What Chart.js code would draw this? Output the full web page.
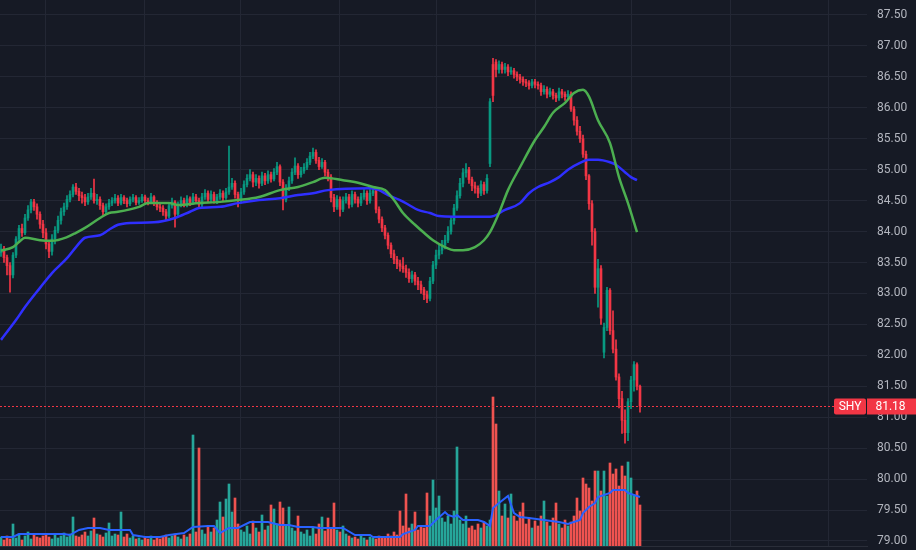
<!DOCTYPE html>
<html>
<head>
<meta charset="utf-8">
<title>SHY</title>
<script src="https://cdn.jsdelivr.net/npm/chart.js@4.4.1/dist/chart.umd.min.js"></script>
<style>
  html, body { margin: 0; padding: 0; background: #161a25; }
  #wrap { width: 916px; height: 550px; }
</style>
</head>
<body>
<div id="wrap"><canvas id="shyChart" width="916" height="550"></canvas></div>
<script>
// SHY daily candles (bar number = position in series)
const opens = [
  83.66, 83.72, 83.58, 83.45, 83.30, 83.62, 83.88, 84.05, 83.98, 84.22,
  84.35, 84.48, 84.40, 84.28, 84.12, 83.98, 83.80, 83.68, 83.88, 84.02,
  84.18, 84.32, 84.40, 84.52, 84.60, 84.72, 84.65, 84.58, 84.55, 84.48,
  84.56, 84.62, 84.50, 84.52, 84.42, 84.32, 84.40, 84.46, 84.50, 84.54,
  84.46, 84.55, 84.50, 84.45, 84.52, 84.55, 84.47, 84.50, 84.56, 84.50,
  84.48, 84.56, 84.46, 84.40, 84.38, 84.32, 84.25, 84.42, 84.48, 84.28,
  84.44, 84.50, 84.44, 84.53, 84.47, 84.56, 84.50, 84.44, 84.56, 84.62,
  84.52, 84.60, 84.50, 84.56, 84.62, 84.55, 84.64, 84.72, 84.78, 84.60,
  84.50, 84.64, 84.76, 84.86, 84.92, 84.80, 84.86, 84.78, 84.90, 84.82,
  84.92, 84.85, 84.96, 85.05, 84.80, 84.52, 84.70, 84.82, 84.96, 85.06,
  84.92, 84.98, 85.04, 85.12, 85.22, 85.28, 85.15, 85.05, 85.12, 84.96,
  84.88, 84.55, 84.40, 84.52, 84.36, 84.50, 84.56, 84.44, 84.60, 84.52,
  84.46, 84.56, 84.62, 84.50, 84.62, 84.66, 84.36, 84.20, 84.06, 83.94,
  83.78, 83.64, 83.55, 83.48, 83.44, 83.40, 83.34, 83.24, 83.30, 83.20,
  83.14, 83.06, 82.98, 82.92, 83.20, 83.46, 83.62, 83.70, 83.78, 83.86,
  84.00, 84.18, 84.38, 84.58, 84.78, 84.95, 85.00, 84.84, 84.74, 84.70,
  84.62, 84.76, 84.66, 85.10, 86.70, 86.74, 86.62, 86.70, 86.62, 86.66,
  86.58, 86.60, 86.54, 86.50, 86.46, 86.42, 86.40, 86.36, 86.42, 86.38,
  86.36, 86.26, 86.30, 86.22, 86.26, 86.20, 86.16, 86.26, 86.22, 86.18,
  86.22, 85.98, 85.80, 85.62, 85.50, 85.25, 84.90, 84.45, 84.00, 83.10,
  83.40, 82.05, 82.45, 83.05, 82.40, 82.10, 81.65, 81.30, 80.95, 80.75,
  81.25, 81.60, 81.85, 81.50
];
const highs = [
  83.80, 83.76, 83.62, 83.50, 83.66, 83.92, 84.10, 84.12, 84.28, 84.42,
  84.52, 84.52, 84.45, 84.32, 84.18, 84.05, 83.85, 83.95, 84.08, 84.25,
  84.38, 84.46, 84.58, 84.66, 84.76, 84.78, 84.70, 84.64, 84.60, 84.62,
  84.70, 84.85, 84.60, 84.56, 84.46, 84.45, 84.52, 84.55, 84.60, 84.58,
  84.60, 84.58, 84.54, 84.56, 84.60, 84.58, 84.55, 84.60, 84.59, 84.54,
  84.62, 84.58, 84.50, 84.45, 84.42, 84.36, 84.46, 84.54, 84.50, 84.48,
  84.56, 84.54, 84.58, 84.56, 84.62, 84.60, 84.54, 84.62, 84.68, 84.66,
  84.66, 84.64, 84.60, 84.68, 84.66, 84.70, 85.38, 84.86, 84.82, 84.64,
  84.70, 84.82, 84.92, 85.00, 84.96, 84.92, 84.90, 84.96, 84.94, 84.98,
  84.96, 85.02, 85.12, 85.08, 84.84, 84.76, 84.88, 85.02, 85.19, 85.10,
  85.04, 85.10, 85.18, 85.28, 85.35, 85.32, 85.20, 85.18, 85.15, 85.00,
  84.92, 84.60, 84.58, 84.56, 84.56, 84.62, 84.60, 84.66, 84.64, 84.56,
  84.62, 84.68, 84.66, 84.68, 84.72, 84.70, 84.40, 84.24, 84.10, 83.98,
  83.82, 83.70, 83.60, 83.54, 83.58, 83.46, 83.40, 83.36, 83.34, 83.26,
  83.20, 83.10, 83.04, 83.26, 83.52, 83.70, 83.78, 83.86, 83.94, 84.08,
  84.24, 84.44, 84.66, 84.86, 85.02, 85.10, 85.04, 84.88, 84.80, 84.74,
  84.82, 84.80, 84.92, 86.15, 86.80, 86.78, 86.76, 86.74, 86.72, 86.70,
  86.66, 86.64, 86.58, 86.54, 86.50, 86.46, 86.44, 86.46, 86.46, 86.42,
  86.40, 86.36, 86.34, 86.32, 86.30, 86.24, 86.32, 86.30, 86.26, 86.28,
  86.26, 86.02, 85.86, 85.70, 85.56, 85.30, 84.92, 84.50, 84.05, 83.55,
  83.45, 82.52, 83.10, 83.08, 82.72, 82.25, 81.70, 81.42, 81.12, 81.30,
  81.66, 81.90, 81.88, 81.52
];
const lows = [
  83.60, 83.50, 83.30, 83.02, 83.25, 83.58, 83.84, 83.92, 83.95, 84.18,
  84.30, 84.34, 84.20, 84.05, 83.90, 83.72, 83.58, 83.62, 83.80, 83.98,
  84.12, 84.26, 84.36, 84.48, 84.56, 84.60, 84.50, 84.46, 84.42, 84.44,
  84.52, 84.46, 84.44, 84.36, 84.26, 84.28, 84.36, 84.42, 84.46, 84.42,
  84.43, 84.45, 84.40, 84.42, 84.48, 84.43, 84.44, 84.47, 84.46, 84.43,
  84.45, 84.42, 84.35, 84.32, 84.26, 84.19, 84.22, 84.38, 84.07, 84.24,
  84.40, 84.40, 84.40, 84.42, 84.44, 84.46, 84.38, 84.40, 84.52, 84.48,
  84.48, 84.46, 84.45, 84.52, 84.50, 84.52, 84.60, 84.68, 84.54, 84.40,
  84.46, 84.60, 84.72, 84.82, 84.72, 84.74, 84.70, 84.74, 84.76, 84.78,
  84.80, 84.82, 84.92, 84.74, 84.35, 84.48, 84.66, 84.78, 84.92, 84.86,
  84.88, 84.94, 85.00, 85.08, 85.18, 85.10, 85.00, 85.02, 84.90, 84.82,
  84.48, 84.32, 84.36, 84.25, 84.32, 84.46, 84.38, 84.40, 84.46, 84.40,
  84.42, 84.52, 84.44, 84.46, 84.58, 84.30, 84.14, 84.00, 83.88, 83.72,
  83.58, 83.48, 83.40, 83.36, 83.34, 83.26, 83.18, 83.18, 83.14, 83.06,
  83.00, 82.90, 82.85, 82.88, 83.16, 83.40, 83.56, 83.64, 83.72, 83.82,
  83.96, 84.12, 84.34, 84.54, 84.72, 84.88, 84.78, 84.66, 84.62, 84.55,
  84.58, 84.60, 84.62, 85.05, 86.10, 86.50, 86.56, 86.56, 86.56, 86.52,
  86.54, 86.48, 86.44, 86.40, 86.36, 86.34, 86.30, 86.32, 86.32, 86.30,
  86.20, 86.22, 86.16, 86.18, 86.14, 86.10, 86.12, 86.16, 86.12, 86.14,
  85.94, 85.72, 85.56, 85.44, 85.20, 84.84, 84.36, 83.78, 83.00, 82.78,
  82.50, 81.96, 82.40, 82.34, 82.04, 81.60, 81.15, 80.74, 80.58, 80.62,
  81.14, 81.42, 81.44, 81.08
];
const closes = [
  83.72, 83.58, 83.45, 83.30, 83.62, 83.88, 84.05, 83.98, 84.22, 84.35,
  84.48, 84.40, 84.28, 84.12, 83.98, 83.80, 83.68, 83.88, 84.02, 84.18,
  84.32, 84.40, 84.52, 84.60, 84.72, 84.65, 84.58, 84.55, 84.48, 84.56,
  84.62, 84.50, 84.52, 84.42, 84.32, 84.40, 84.46, 84.50, 84.54, 84.46,
  84.55, 84.50, 84.45, 84.52, 84.55, 84.47, 84.50, 84.56, 84.50, 84.48,
  84.56, 84.46, 84.40, 84.38, 84.32, 84.25, 84.42, 84.48, 84.28, 84.44,
  84.50, 84.44, 84.53, 84.47, 84.56, 84.50, 84.44, 84.56, 84.62, 84.52,
  84.60, 84.50, 84.56, 84.62, 84.55, 84.64, 84.72, 84.78, 84.60, 84.50,
  84.64, 84.76, 84.86, 84.92, 84.80, 84.86, 84.78, 84.90, 84.82, 84.92,
  84.85, 84.96, 85.05, 84.80, 84.52, 84.70, 84.82, 84.96, 85.06, 84.92,
  84.98, 85.04, 85.12, 85.22, 85.28, 85.15, 85.05, 85.12, 84.96, 84.88,
  84.55, 84.40, 84.52, 84.36, 84.50, 84.56, 84.44, 84.60, 84.52, 84.46,
  84.56, 84.62, 84.50, 84.62, 84.66, 84.36, 84.20, 84.06, 83.94, 83.78,
  83.64, 83.55, 83.48, 83.44, 83.40, 83.34, 83.24, 83.30, 83.20, 83.14,
  83.06, 82.98, 82.92, 83.20, 83.46, 83.62, 83.70, 83.78, 83.86, 84.00,
  84.18, 84.38, 84.58, 84.78, 84.95, 85.00, 84.84, 84.74, 84.70, 84.62,
  84.76, 84.66, 84.86, 86.10, 86.20, 86.62, 86.70, 86.62, 86.66, 86.58,
  86.60, 86.54, 86.50, 86.46, 86.42, 86.40, 86.36, 86.42, 86.38, 86.36,
  86.26, 86.30, 86.22, 86.26, 86.20, 86.16, 86.26, 86.22, 86.18, 86.22,
  85.98, 85.80, 85.62, 85.50, 85.25, 84.90, 84.45, 84.00, 83.10, 83.40,
  82.60, 82.45, 83.05, 82.40, 82.10, 81.65, 81.30, 80.95, 80.75, 81.25,
  81.60, 81.85, 81.50, 81.18
];
// volume, thousands of shares
const volumes = [
  90, 60, 100, 70, 220, 80, 120, 60, 100, 140,
  70, 120, 90, 80, 100, 120, 90, 70, 110, 80,
  100, 130, 90, 120, 290, 100, 90, 110, 140, 100,
  150, 280, 120, 110, 90, 130, 230, 100, 120, 110,
  340, 90, 120, 80, 100, 70, 80, 60, 90, 70,
  100, 60, 80, 70, 90, 110, 80, 100, 120, 90,
  70, 110, 90, 120, 1110, 140, 980, 160, 120, 200,
  140, 180, 260, 440, 290, 470, 620, 340, 480, 220,
  160, 140, 200, 120, 250, 180, 140, 310, 160, 200,
  410, 370, 220, 440, 380, 200, 390, 180, 150, 300,
  140, 120, 160, 100, 180, 120, 220, 290, 150, 280,
  180, 430, 160, 140, 200, 120, 100, 80, 90, 70,
  100, 80, 60, 90, 80, 70, 100, 90, 80, 120,
  100, 140, 110, 350, 200, 520, 180, 220, 340, 160,
  200, 180, 530, 300, 660, 380, 500, 280, 240, 300,
  220, 350, 990, 260, 220, 300, 180, 200, 160, 220,
  180, 240, 200, 260, 1490, 1220, 550, 300, 420, 280,
  520, 300, 250, 340, 430, 220, 280, 180, 250, 200,
  300, 450, 240, 200, 280, 430, 220, 180, 260, 200,
  240, 300, 480, 350, 680, 620, 580, 450, 750, 750,
  550, 750, 500, 830, 720, 770, 600, 800, 700, 840,
  680, 500, 550, 410
];

// moving averages as drawn on the chart (bar number -> value)
const greenMaBars = [0, 4, 6, 8, 13, 17, 22, 25, 28, 33, 36, 39, 46, 49, 56, 59, 66, 73, 79, 86,
  93, 99, 104, 108, 114, 119, 124, 128, 131, 134, 138, 141, 144, 148, 151, 154, 158, 161, 163, 166,
  169, 173, 178, 181, 184, 188, 191, 194, 196, 199, 203, 206, 209, 212];
const greenMaValues = [83.69, 83.75, 83.83, 83.90, 83.86, 83.85, 83.91, 83.98, 84.06, 84.22,
  84.30, 84.32, 84.40, 84.46, 84.46, 84.43, 84.46, 84.48, 84.51, 84.56,
  84.67, 84.72, 84.80, 84.87, 84.83, 84.79, 84.72, 84.67, 84.51, 84.30,
  84.11, 83.98, 83.86, 83.75, 83.70, 83.70, 83.75, 83.86, 83.99, 84.30,
  84.67, 85.04, 85.48, 85.69, 85.92, 86.08, 86.24, 86.29, 86.18, 85.80,
  85.43, 84.88, 84.46, 83.99];
const blueMaBars = [0, 5, 8, 13, 17, 22, 25, 28, 33, 36, 39, 43, 51, 58, 63, 66, 73, 79, 86, 93,
  99, 104, 109, 123, 126, 129, 133, 136, 139, 143, 146, 151, 163, 168, 173, 176, 179, 183, 186, 189,
  193, 196, 199, 203, 205, 208, 210, 212];
const blueMaValues = [82.25, 82.57, 82.78, 83.09, 83.33, 83.57, 83.75, 83.90, 83.94, 84.03,
  84.11, 84.14, 84.15, 84.22, 84.32, 84.38, 84.40, 84.46, 84.51, 84.54,
  84.59, 84.62, 84.67, 84.70, 84.67, 84.59, 84.51, 84.43, 84.35, 84.30,
  84.25, 84.24, 84.24, 84.35, 84.46, 84.62, 84.72, 84.80, 84.88, 85.00,
  85.11, 85.16, 85.16, 85.12, 85.08, 84.96, 84.88, 84.83];
const volMaBars = [0, 4, 6, 13, 21, 23, 26, 29, 33, 36, 43, 44, 48, 53, 56, 61, 64, 69, 71, 73,
  76, 79, 83, 89, 93, 96, 99, 104, 106, 109, 114, 118, 123, 124, 133, 134, 138, 139, 143, 145,
  148, 149, 151, 152, 154, 159, 161, 163, 164, 166, 169, 171, 173, 176, 181, 186, 189, 193, 194, 196,
  198, 199, 203, 204, 208, 209, 211, 213];
const volMaValues = [90, 90, 120, 120, 120, 110, 160, 180, 180, 160,
  160, 110, 90, 90, 110, 130, 190, 200, 200, 130,
  180, 180, 240, 240, 210, 210, 190, 190, 180, 180,
  180, 110, 110, 90, 90, 120, 160, 200, 200, 260,
  340, 310, 290, 310, 260, 260, 240, 200, 380, 430,
  500, 330, 290, 280, 260, 240, 220, 260, 330, 390,
  430, 490, 530, 560, 560, 530, 510, 490];

// month boundaries (vertical grid), in bar numbers
const monthBreaks = [14.67, 47.67, 80, 112.67, 145.33, 178.33, 210.33, 243, 275.67];

const TICKER = 'SHY';
const UP = '#089981';
const DOWN = '#f23645';
const VOL_UP = '#26a69a';
const VOL_DOWN = '#ef5350';
const GRID = '#232734';
const TEXT = '#b2b5be';

Chart.defaults.font.family = "Roboto, 'Noto Sans', sans-serif";

function toPoints(bars, values) {
    return bars.map((b, k) => ({ x: b, y: values[k] }));
}

const isUp = closes.map((c, i) => c >= opens[i]);
const candleColors = isUp.map(u => u ? UP : DOWN);
const volumeColors = isUp.map(u => u ? VOL_UP : VOL_DOWN);

const wickData = highs.map((h, i) => ({ x: i, y: [lows[i], h] }));
const bodyData = opens.map((o, i) => ({ x: i, y: [o, closes[i]] }));
const volumeData = volumes.map((v, i) => ({ x: i, y: v }));

// dotted last-price line with ticker + price tags
const lastPricePlugin = {
    id: 'lastPrice',
    afterDatasetsDraw(chart) {
        const { ctx, chartArea, scales } = chart;
        const last = closes[closes.length - 1];
        const py = Math.round(scales.y.getPixelForValue(last)) + 0.5;
        ctx.save();
        ctx.strokeStyle = DOWN;
        ctx.lineWidth = 1;
        ctx.setLineDash([2, 2]);
        ctx.beginPath();
        ctx.moveTo(chartArea.left, py);
        ctx.lineTo(chartArea.right, py);
        ctx.stroke();
        ctx.setLineDash([]);

        ctx.fillStyle = DOWN;
        ctx.beginPath();
        ctx.roundRect(chartArea.right - 33, py - 8, 32, 16, 2);
        ctx.fill();
        ctx.fillRect(chartArea.right, py - 8, chart.width - chartArea.right, 16);

        ctx.fillStyle = '#ffffff';
        ctx.font = "12px Roboto, 'Noto Sans', sans-serif";
        ctx.textAlign = 'center';
        ctx.textBaseline = 'middle';
        ctx.fillText(TICKER, chartArea.right - 17, py + 0.5);
        ctx.fillText(last.toFixed(2), (chartArea.right + chart.width) / 2 - 1, py + 0.5);
        ctx.restore();
    }
};

const bgPlugin = {
    id: 'bg',
    beforeDraw(chart) {
        const ctx = chart.ctx;
        ctx.save();
        ctx.fillStyle = '#161a25';
        ctx.fillRect(0, 0, chart.width, chart.height);
        ctx.restore();
    }
};

const ctx = document.getElementById('shyChart').getContext('2d');
new Chart(ctx, {
    type: 'bar',
    data: {
        datasets: [
            {
                type: 'line', label: 'MA short', data: toPoints(greenMaBars, greenMaValues),
                borderColor: '#4caf50', borderWidth: 2.5, pointRadius: 0,
                cubicInterpolationMode: 'monotone', order: 1
            },
            {
                type: 'line', label: 'MA long', data: toPoints(blueMaBars, blueMaValues),
                borderColor: '#2f2fff', borderWidth: 2.5, pointRadius: 0,
                cubicInterpolationMode: 'monotone', order: 2
            },
            {
                label: 'Body', data: bodyData, backgroundColor: candleColors,
                barThickness: 2, minBarLength: 1, grouped: false, borderWidth: 0, order: 5
            },
            {
                label: 'Wick', data: wickData, backgroundColor: candleColors,
                barThickness: 1, grouped: false, borderWidth: 0, order: 6
            },
            {
                type: 'line', label: 'Volume MA', data: toPoints(volMaBars, volMaValues), yAxisID: 'yv',
                borderColor: '#2962ff', borderWidth: 2, pointRadius: 0, tension: 0, order: 9
            },
            {
                label: 'Volume', data: volumeData, yAxisID: 'yv', backgroundColor: volumeColors,
                barThickness: 2, grouped: false, borderWidth: 0, order: 10
            }
        ]
    },
    options: {
        responsive: false,
        animation: false,
        events: [],
        layout: { padding: 0 },
        plugins: {
            legend: { display: false },
            tooltip: { enabled: false }
        },
        scales: {
            x: {
                type: 'linear',
                min: -1 / 3,
                max: 289 - 1 / 3,
                offset: false,
                grid: { color: GRID, drawTicks: false, offset: false },
                border: { display: true, color: '#2a2e39' },
                ticks: { display: false },
                afterBuildTicks: s => { s.ticks = monthBreaks.map(v => ({ value: v })); },
                afterFit: s => {
                    s.height = 4;
                    s.paddingLeft = 0;
                    s.paddingRight = 0;
                }
            },
            y: {
                position: 'right',
                min: 78.9189,
                max: 87.7424,
                grid: { color: GRID, drawTicks: false },
                border: { display: false },
                ticks: {
                    stepSize: 0.5,
                    includeBounds: false,
                    padding: 10,
                    color: TEXT,
                    font: { size: 12 },
                    callback: v => v.toFixed(2)
                },
                afterFit: s => {
                    s.width = 49;
                    // keep the plot area flush with the top/bottom edges
                    s.paddingTop = 0;
                    s.paddingBottom = 0;
                }
            },
            yv: { display: false, min: 0, max: 5460 }
        }
    },
    plugins: [bgPlugin, lastPricePlugin]
});
</script>
</body>
</html>
